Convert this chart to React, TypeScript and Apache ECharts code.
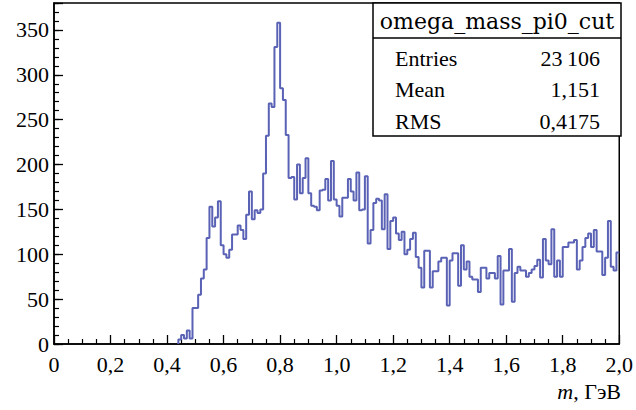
import React, { useEffect, useRef } from "react";
import * as echarts from "echarts";

// Histogram definition: 200 bins of width 0.01 on [0, 2.0]
const xMin = 0;
const xMax = 2.0;
const binWidth = 0.01;

// Bin contents, 10 bins per row (row label = first bin index)
const counts: number[] = [
  /*   0 */ 0, 0, 0, 0, 0, 0, 0, 0, 0, 0,
  /*  10 */ 0, 0, 0, 0, 0, 0, 0, 0, 0, 0,
  /*  20 */ 0, 0, 0, 0, 0, 0, 0, 0, 0, 0,
  /*  30 */ 0, 0, 0, 0, 0, 0, 0, 0, 0, 0,
  /*  40 */ 0, 0, 0, 0, 5, 10, 6, 15, 6, 40,
  /*  50 */ 40, 55, 73, 83, 118, 153, 131, 141, 159, 110,
  /*  60 */ 100, 96, 105, 122, 122, 132, 127, 117, 144, 170,
  /*  70 */ 139, 149, 146, 150, 190, 232, 268, 264, 331, 358,
  /*  80 */ 285, 272, 233, 185, 186, 161, 200, 168, 185, 207,
  /*  90 */ 168, 154, 153, 149, 171, 172, 184, 160, 204, 161,
  /* 100 */ 154, 142, 163, 163, 184, 170, 160, 191, 149, 150,
  /* 110 */ 187, 112, 127, 157, 162, 160, 128, 167, 106, 137,
  /* 120 */ 141, 123, 116, 125, 100, 105, 117, 124, 97, 85,
  /* 130 */ 63, 104, 104, 63, 81, 81, 92, 96, 96, 43,
  /* 140 */ 93, 101, 101, 65, 110, 83, 92, 75, 72, 72,
  /* 150 */ 58, 85, 85, 73, 79, 79, 73, 98, 44, 82,
  /* 160 */ 82, 106, 47, 79, 86, 82, 82, 75, 79, 83,
  /* 170 */ 87, 94, 74, 117, 93, 89, 128, 75, 93, 75,
  /* 180 */ 108, 108, 113, 113, 116, 83, 93, 108, 118, 123,
  /* 190 */ 108, 127, 103, 103, 77, 96, 137, 86, 82, 102,
];

const yMin = 0;
const yMax = 380;
const yMajorStep = 50;
const yMinorStep = 10;
const yLastLabel = 350;
const xMajorStep = 0.2;

const statsTitle = "omega_mass_pi0_cut";
const statsNames = ["Entries", "Mean", "RMS"];
const statsValues = ["23\u2009106", "1,151", "0,4175"];
const axisTitleItalic = "m";
const axisTitleRest = ", ГэВ";

const FONT = "Liberation Serif";
const FONT_TITLE = "DejaVu Serif";
const FS = 22;
const LINE_COLOR = "#5a62b5";

function buildPoints(): number[][] {
  let first = counts.findIndex((c) => c > 0);
  if (first < 0) first = 0;
  const pts: number[][] = [[first * binWidth, 0]];
  for (let i = first; i < counts.length; i++) {
    pts.push([+(xMin + i * binWidth).toFixed(4), counts[i]]);
  }
  pts.push([xMax, counts[counts.length - 1]]);
  return pts;
}

function fmtX(v: number): string {
  if (Math.abs(v) < 1e-9) return "0";
  return v.toFixed(1).replace(".", ",");
}

export default function App() {
  const ref = useRef<HTMLDivElement>(null);

  useEffect(() => {
    if (!ref.current) return;
    const chart = echarts.init(ref.current, undefined, { renderer: "svg" });

    const gridLeft = 54;
    const gridRight = 15;
    const gridTop = 3;
    const gridBottom = 66;
    const W = 636;
    const plotRight = W - gridRight;
    const boxLeft = 373;

    const black = "#000";
    const txt = (text: string, x: number, y: number, align: string, fam: string) => ({
      type: "text",
      x,
      y,
      z: 11,
      style: {
        text,
        fill: black,
        fontFamily: fam,
        fontSize: FS,
        textAlign: align,
        textVerticalAlign: "middle",
      },
    });

    chart.setOption({
      animation: false,
      backgroundColor: "#fff",
      textStyle: { fontFamily: FONT },
      grid: {
        left: gridLeft,
        right: gridRight,
        top: gridTop,
        bottom: gridBottom,
        show: true,
        borderColor: black,
        borderWidth: 1.5,
        containLabel: false,
      },
      xAxis: {
        type: "value",
        min: xMin,
        max: xMax,
        interval: xMajorStep,
        axisLine: { show: true, lineStyle: { color: black, width: 1.5 } },
        axisTick: { show: true, inside: true, length: 9, lineStyle: { color: black, width: 1.3 } },
        minorTick: { show: true, splitNumber: 4, length: 5, lineStyle: { color: black, width: 1.2 } },
        splitLine: { show: false },
        minorSplitLine: { show: false },
        axisLabel: {
          formatter: fmtX,
          margin: 9,
          color: black,
          fontFamily: FONT,
          fontSize: FS,
        },
      },
      yAxis: [
        {
          type: "value",
          position: "left",
          min: yMin,
          max: yMax,
          interval: yMajorStep,
          axisLine: { show: true, lineStyle: { color: black, width: 1.5 } },
          axisTick: { show: true, inside: true, length: 9, lineStyle: { color: black, width: 1.3 } },
          splitLine: { show: false },
          axisLabel: {
            formatter: (v: number) => (v > yLastLabel ? "" : String(Math.round(v))),
            margin: 5,
            color: black,
            fontFamily: FONT,
            fontSize: FS,
          },
        },
        {
          type: "value",
          position: "left",
          min: yMin,
          max: yMax,
          interval: yMinorStep,
          axisLine: { show: false },
          axisTick: { show: true, inside: true, length: 5, lineStyle: { color: black, width: 1.2 } },
          splitLine: { show: false },
          axisLabel: { show: false },
        },
      ],
      series: [
        {
          type: "line",
          data: buildPoints(),
          step: "end",
          showSymbol: false,
          symbol: "none",
          yAxisIndex: 0,
          lineStyle: { color: LINE_COLOR, width: 2 },
          z: 2,
        },
      ],
      graphic: [
        {
          type: "rect",
          shape: { x: boxLeft, y: gridTop, width: plotRight - boxLeft, height: 133 },
          style: { fill: "#fff", stroke: black, lineWidth: 1.5 },
          z: 10,
        },
        {
          type: "line",
          shape: { x1: boxLeft, y1: 38, x2: plotRight, y2: 38 },
          style: { stroke: black, lineWidth: 1.5 },
          z: 11,
        },
        txt(statsTitle, (boxLeft + plotRight) / 2, 21, "center", FONT_TITLE),
        ...statsNames.map((name, i) => txt(name, 395, 58 + i * 31.5, "left", FONT)),
        ...statsValues.map((val, i) => txt(val, 600, 58 + i * 31.5, "right", FONT)),
        {
          type: "text",
          x: plotRight,
          y: 391,
          z: 11,
          style: {
            text: `{it|${axisTitleItalic}}{rm|${axisTitleRest}}`,
            fill: black,
            fontFamily: FONT,
            fontSize: FS,
            textAlign: "right",
            textVerticalAlign: "middle",
            rich: {
              it: { fontStyle: "italic", fontFamily: FONT, fontSize: FS, fill: black },
              rm: { fontFamily: FONT, fontSize: FS, fill: black },
            },
          },
        },
      ],
    });

    return () => {
      chart.dispose();
    };
  }, []);

  return (
    <div
      ref={ref}
      style={{ position: "fixed", left: 0, top: 0, width: 636, height: 410, background: "#fff" }}
    />
  );
}
